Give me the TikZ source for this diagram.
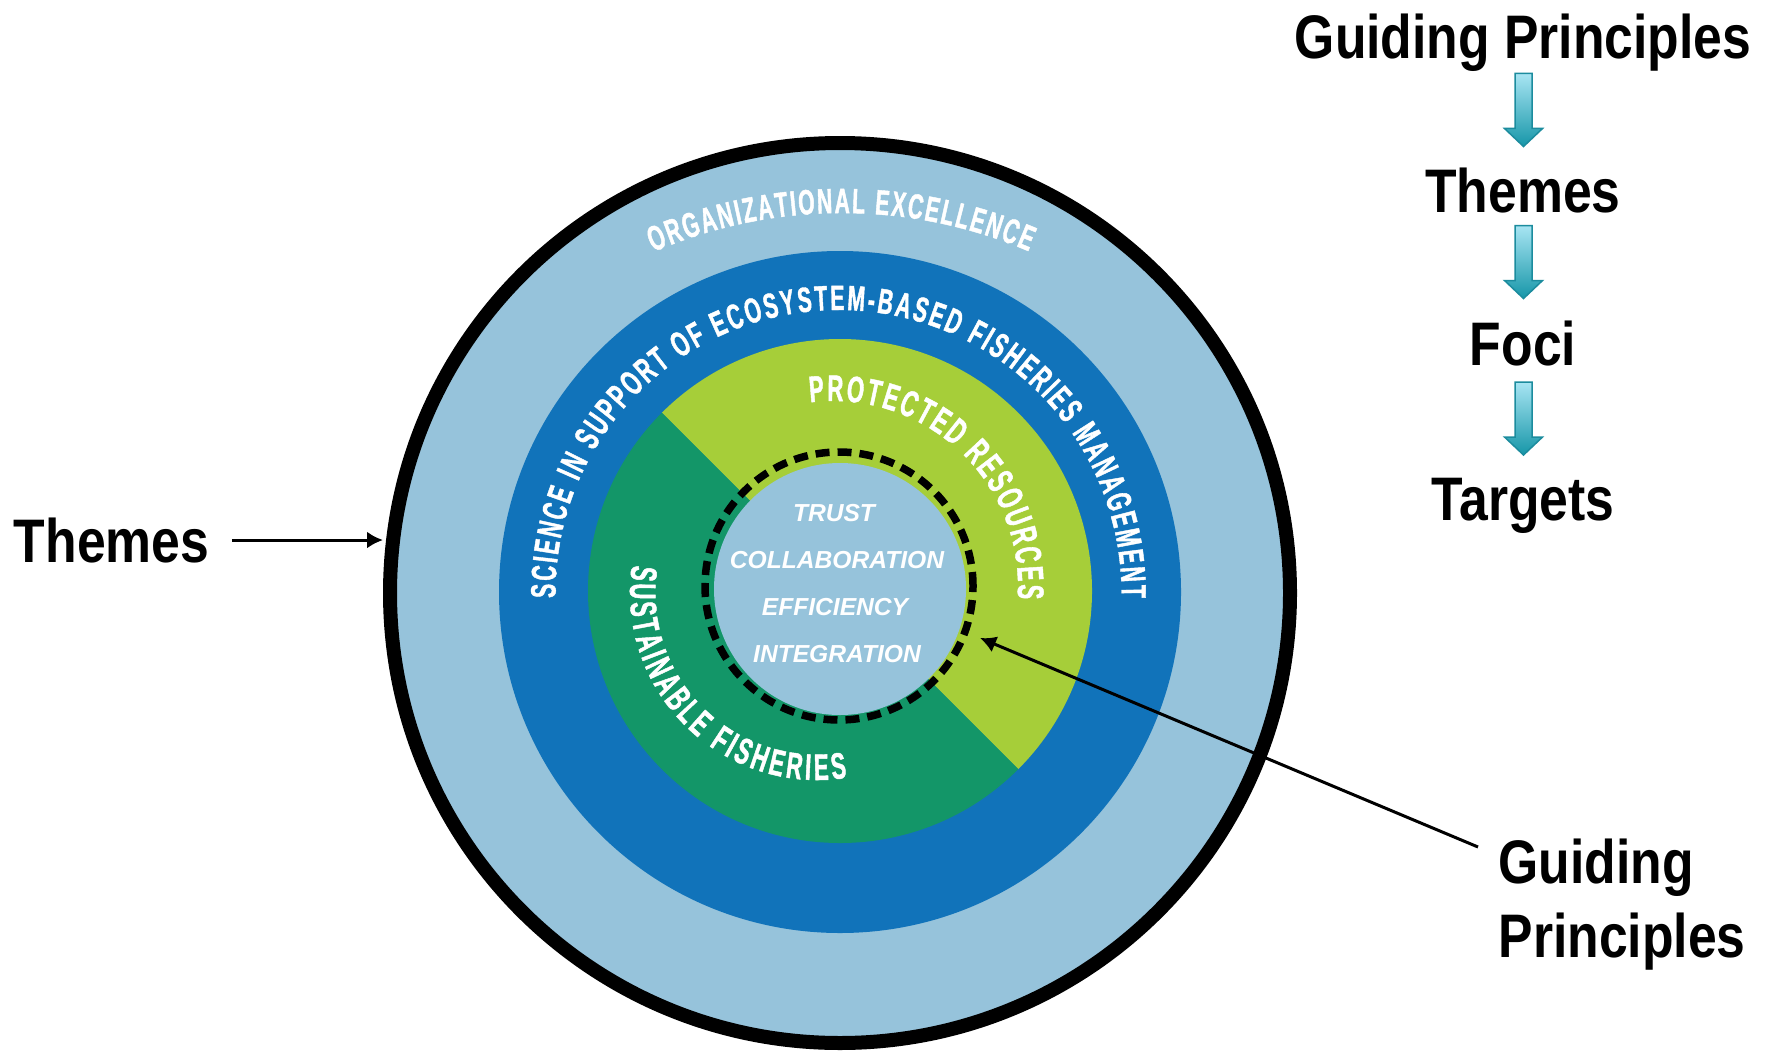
\documentclass[tikz,border=0pt]{standalone}
\usepackage{fontspec}
\setmainfont{Liberation Sans}
\newfontfamily\headfont[FakeStretch=0.84]{Liberation Sans}
\newfontfamily\ringfont[FakeStretch=0.6, BoldFeatures={FakeBold=1.2}]{Liberation Sans}
\usetikzlibrary{decorations.text, arrows.meta, calc}

\definecolor{ringsky}{RGB}{150,195,219}
\definecolor{ringblue}{RGB}{17,115,186}
\definecolor{ringgreen}{RGB}{19,150,104}
\definecolor{ringlime}{RGB}{166,206,57}
\definecolor{flowtop}{RGB}{168,229,243}
\definecolor{flowbot}{RGB}{22,150,168}
\definecolor{flowedge}{RGB}{28,140,158}

\newcommand\ringtextfont{\ringfont\bfseries\fontsize{10}{11}\selectfont}
\newcommand\innerringfont{\ringfont\bfseries\fontsize{10.5}{11}\selectfont}

\tikzset{
  headlabel/.style={font=\headfont\bfseries\fontsize{17.5}{20.8}\selectfont, inner sep=0},
  corelabel/.style={font=\bfseries\itshape\fontsize{7}{8}\selectfont, text=white, inner sep=0, anchor=base},
  ringlabel/.style={decorate, decoration={text along path, text color=white,
      text align={fit to path}, text={|\ringtextfont|#1}}},
  innerringlabel/.style={decorate, decoration={text along path, text color=white,
      text align={fit to path}, text={|\innerringfont|#1}}},
  pointer/.style={line width=0.3mm, -{Latex[length=1.6mm, width=1.7mm]}},
  flowarrow/.pic={
    \shade[top color=flowtop, bottom color=flowbot, draw=flowedge, line width=0.15mm]
      (-8.5,0) -- (8.5,0) -- (8.5,-55) -- (19,-55) -- (0,-73) -- (-19,-55) -- (-8.5,-55) -- cycle;
  }
}

\begin{document}
\begin{tikzpicture}[x=0.1mm, y=0.1mm]
  \useasboundingbox (0,0) rectangle (1772,-1050);
  \fill[white] (0,0) rectangle (1772,-1050);

  % concentric rings
  \node[circle, fill=ringsky, draw=black, line width=1.4mm, minimum size=90mm, inner sep=0] (outer) at (840,-593) {};
  \fill[ringblue] (840,-592) circle[radius=341];
  \fill[ringlime] (840,-591) ++(-45:252) arc[start angle=-45, end angle=135, radius=252] -- cycle;
  \fill[ringgreen] (840,-591) ++(135:252) arc[start angle=135, end angle=315, radius=252] -- cycle;
  \fill[ringsky] (840,-589) circle[radius=126];
  \node[circle, draw=black, line width=0.75mm, dash pattern=on 1.4mm off 0.8mm,
        minimum size=26.8mm, inner sep=0] (core) at (839,-586) {};

  % ring captions
  \path[ringlabel={ORGANIZATIONAL EXCELLENCE}]
    (842,-688) ++(113.4:475) arc[start angle=113.4, end angle=66.8, radius=475];
  \path[ringlabel={SCIENCE IN SUPPORT OF ECOSYSTEM-BASED FISHERIES MANAGEMENT}]
    (838.5,-593) ++(181:283) arc[start angle=181, end angle=-1, radius=283];
  \path[innerringlabel={PROTECTED RESOURCES}]
    (833,-586) ++(97.1:185) arc[start angle=97.1, end angle=-4, radius=185];
  \path[innerringlabel={SUSTAINABLE FISHERIES}]
    (817,-593) ++(171.4:187) arc[start angle=171.4, end angle=279.3, radius=187];

  % guiding principles in the core
  \node[corelabel] (trust) at (834,-521) {TRUST};
  \node[corelabel] (collab) at (837,-568) {COLLABORATION};
  \node[corelabel] (effic) at (835,-615) {EFFICIENCY};
  \node[corelabel] (integ) at (837,-662) {INTEGRATION};

  % hierarchy column
  \node[headlabel, anchor=base] (gp) at (1523,-59) {Guiding Principles};
  \node[headlabel, anchor=base] (th) at (1523,-212) {Themes};
  \node[headlabel, anchor=base] (fo) at (1523,-365) {Foci};
  \node[headlabel, anchor=base] (tg) at (1523,-520) {Targets};
  \path ($(gp.base)+(0.5,-14.5)$) pic {flowarrow};
  \path ($(th.base)+(0.5,-13.5)$) pic {flowarrow};
  \path ($(fo.base)+(0.5,-17)$) pic {flowarrow};

  % callouts
  \node[headlabel, anchor=base] (themesnote) at (111.5,-562) {Themes};
  \draw[pointer, shorten <=2.2mm] (themesnote.east) -- (themesnote.east -| outer.west);

  \node[headlabel, anchor=base west, align=left] (gpnote) at (1498,-957) {Guiding\\Principles};
  \coordinate (gptip) at (980,-638);
  \draw[pointer] ($(gpnote.base west)+(-20,110)$) -- (gptip);
\end{tikzpicture}
\end{document}
